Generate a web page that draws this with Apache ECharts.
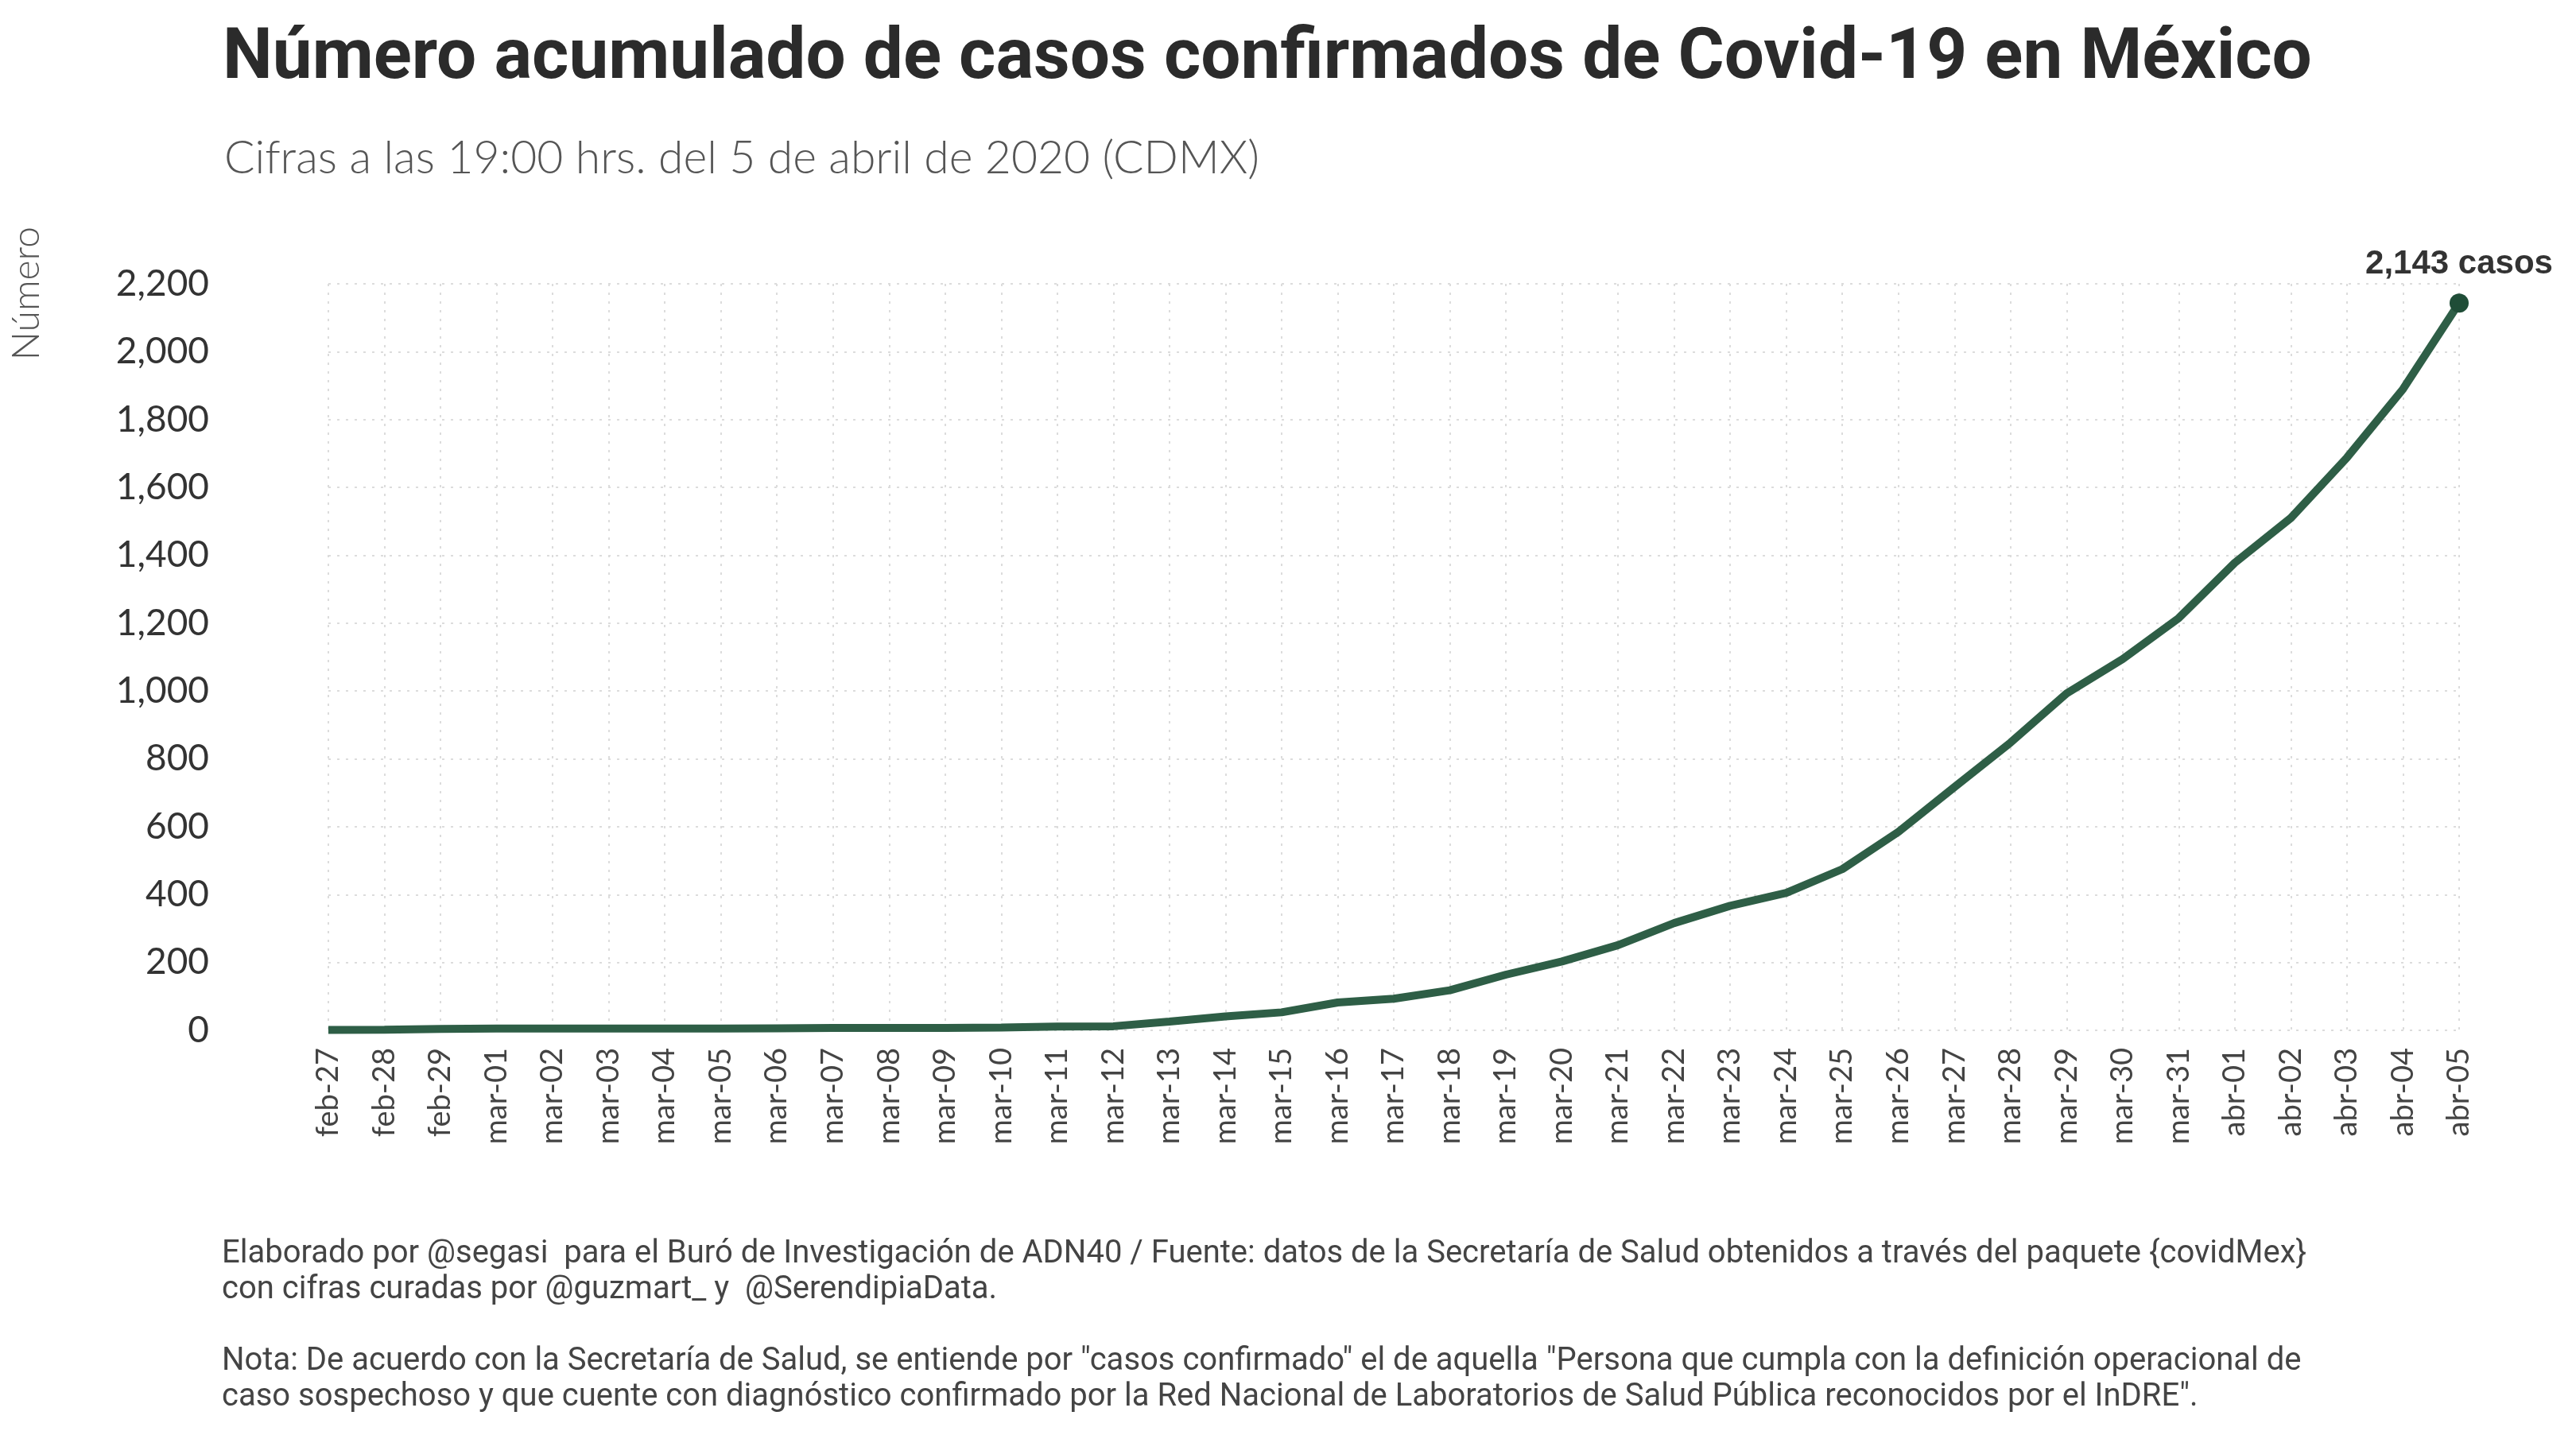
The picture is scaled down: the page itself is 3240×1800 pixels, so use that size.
<!DOCTYPE html><html><head><meta charset="utf-8"><script src="https://cdn.jsdelivr.net/npm/echarts@6/dist/echarts.min.js"></script>
<style>html,body{margin:0;padding:0;background:#fff}#c{width:3240px;height:1800px}</style></head><body><div id="c"></div><script>
const categories=['feb-27','feb-28','feb-29','mar-01','mar-02','mar-03','mar-04','mar-05','mar-06','mar-07','mar-08','mar-09','mar-10','mar-11','mar-12','mar-13','mar-14','mar-15','mar-16','mar-17','mar-18','mar-19','mar-20','mar-21','mar-22','mar-23','mar-24','mar-25','mar-26','mar-27','mar-28','mar-29','mar-30','mar-31','abr-01','abr-02','abr-03','abr-04','abr-05'];
const casos=[1,2,4,5,5,5,5,5,6,7,7,7,8,11,12,26,41,53,82,93,118,164,203,251,316,367,405,475,585,717,848,993,1094,1215,1378,1510,1688,1890,2143];
const title='Número acumulado de casos confirmados de Covid-19 en México';
const subtitle='Cifras a las 19:00 hrs. del 5 de abril de 2020 (CDMX)';
const caption='Elaborado por @segasi  para el Buró de Investigación de ADN40 / Fuente: datos de la Secretaría de Salud obtenidos a través del paquete {covidMex}\ncon cifras curadas por @guzmart_ y  @SerendipiaData.\n\nNota: De acuerdo con la Secretaría de Salud, se entiende por "casos confirmado" el de aquella "Persona que cumpla con la definición operacional de\ncaso sospechoso y que cuente con diagnóstico confirmado por la Red Nacional de Laboratorios de Salud Pública reconocidos por el InDRE".';
const gray='#555';
const chart=echarts.init(document.getElementById('c'));
chart.setOption({
 backgroundColor:'#fff',
 animation:false,
 title:[{text:title,left:275,top:26,textStyle:{fontFamily:'Roboto',fontWeight:'bold',fontSize:89,color:'#2b2b2b'}},
  {text:subtitle,left:277,top:166,textStyle:{fontFamily:'Lato',fontWeight:300,fontSize:57,color:gray}}],
 graphic:[{type:'text',left:279,top:1555,style:{text:caption,font:'40px Roboto',fill:'#444',lineHeight:45}},
  {type:'text',left:10,top:285,rotation:Math.PI/2,style:{text:'Número',font:'300 48px Lato',fill:gray}}],
 grid:{left:413,right:147,top:357,bottom:504},
 xAxis:{type:'category',data:categories,boundaryGap:false,
  axisLine:{show:false},axisTick:{show:false},
  axisLabel:{rotate:90,fontFamily:'Lato',fontWeight:400,fontSize:38,color:'#444',margin:22,interval:0},
  splitLine:{show:true,lineStyle:{type:[3,8],color:'#dcdcdc',width:2}}},
 yAxis:{type:'value',min:0,max:2200,interval:200,
  axisLine:{show:false},axisTick:{show:false},
  axisLabel:{fontFamily:'Lato',fontWeight:400,fontSize:46,color:'#333',margin:150,formatter:v=>v.toLocaleString('en-US')},
  splitLine:{lineStyle:{type:[3,8],color:'#dcdcdc',width:2}}},
 series:[{type:'line',data:casos.map((v,i)=>i===casos.length-1?{value:v,symbol:'circle',symbolSize:24,label:{show:true,position:'top',distance:16,formatter:p=>p.value.toLocaleString('en-US')+' casos',fontFamily:'Liberation Sans',fontWeight:'bold',fontSize:42,color:'#333'}}:v),
  symbol:'none',showSymbol:true,lineStyle:{color:'#2e5e46',width:10},itemStyle:{color:'#1f4d37'}}]
});
</script></body></html>
